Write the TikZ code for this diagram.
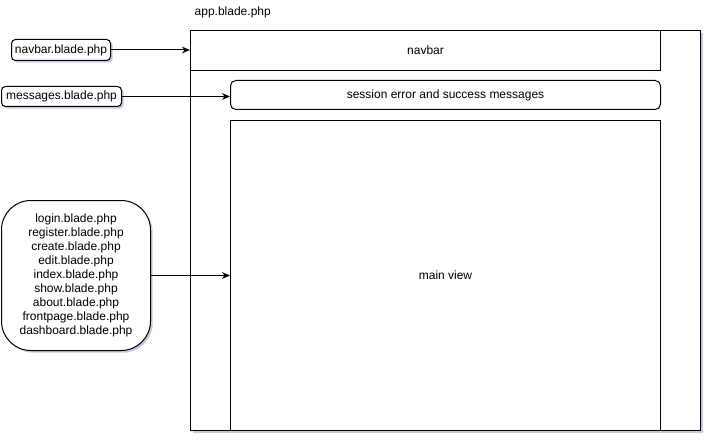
\documentclass[tikz,border=0pt]{standalone}
\usepackage{fontspec}
\setmainfont{Liberation Sans}
\usetikzlibrary{shadows,arrows.meta}
\begin{document}
\begin{tikzpicture}[x=0.75pt,y=-0.75pt,
  font=\fontsize{9}{10.5}\selectfont,
  shad/.style={drop shadow={opacity=0.22,shadow xshift=1.6pt,shadow yshift=-1.6pt,fill=black!60!blue}},
  frame/.style={draw,line width=0.75pt,fill=white},
  filebox/.style={draw,line width=0.75pt,fill=white,rounded corners=3pt,inner sep=0pt,shad},
  conn/.style={line width=0.75pt,-{Stealth[length=6pt,width=5pt]}}
]
\useasboundingbox (0,0) rectangle (712,442);
% outer app frame
\node[frame,shad,minimum width=510*0.75pt,minimum height=400*0.75pt,inner sep=0pt,anchor=north west] (app) at (190,30) {};
\node[anchor=west] (applbl) at (190,12) {app.blade.php};
% navbar
\node[frame,minimum width=470*0.75pt,minimum height=40*0.75pt,inner sep=0pt,anchor=north west] (nav) at (190,30) {navbar};
% messages
\node[frame,rounded corners=4pt,minimum width=430*0.75pt,minimum height=29*0.75pt,inner sep=0pt,anchor=north west] (msg) at (230,80) {session error and success messages};
% main view
\node[frame,minimum width=430*0.75pt,minimum height=310*0.75pt,inner sep=0pt,anchor=north west] (main) at (230,120) {main view};
% left files
\node[filebox,minimum width=99*0.75pt,minimum height=21*0.75pt,anchor=north west] (navf) at (11,39) {navbar.blade.php};
\node[filebox,minimum width=120*0.75pt,minimum height=20*0.75pt,anchor=north west] (msgf) at (1,86) {messages.blade.php};
\node[filebox,rounded corners=22pt,minimum width=149*0.75pt,minimum height=150*0.75pt,anchor=north west,align=center] (views) at (1,200) {login.blade.php\\register.blade.php\\create.blade.php\\edit.blade.php\\index.blade.php\\show.blade.php\\about.blade.php\\frontpage.blade.php\\dashboard.blade.php};
% connectors
\draw[conn] (navf.east) -- (navf.east -| app.west);
\draw[conn] (msgf.east) -- (msgf.east -| msg.west);
\draw[conn] (views.east) -- (views.east -| main.west);
\end{tikzpicture}
\end{document}
